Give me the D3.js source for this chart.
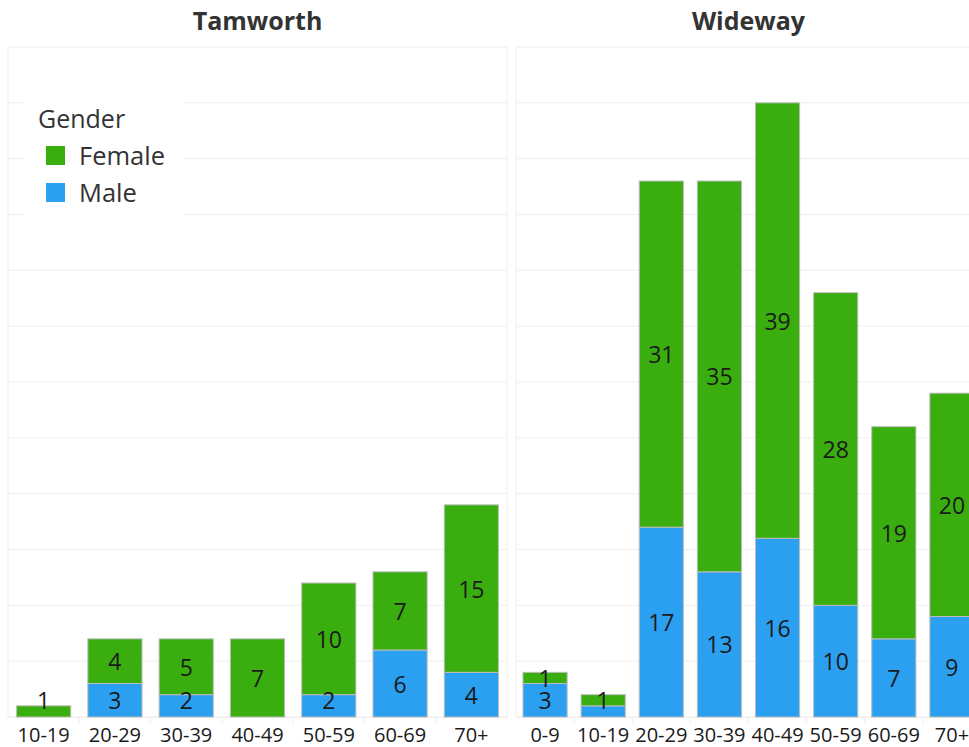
<!DOCTYPE html>
<html>
<head>
<meta charset="utf-8">
<script src="https://cdn.jsdelivr.net/npm/d3@7"></script>
<style>
  html, body { margin: 0; padding: 0; background: #fff; overflow: hidden; }
  svg { display: block; font-family: "Open Sans", "Noto Sans", sans-serif; }
</style>
</head>
<body>
<svg id="chart" width="969" height="747"></svg>
<script>
// ---- Data ----
const tamworthCategories = ["10-19", "20-29", "30-39", "40-49", "50-59", "60-69", "70+"];
const tamworthMale       = [0, 3, 2, 0, 2, 6, 4];
const tamworthFemale     = [1, 4, 5, 7, 10, 7, 15];

const widewayCategories = ["0-9", "10-19", "20-29", "30-39", "40-49", "50-59", "60-69", "70+"];
const widewayMale       = [3, 1, 17, 13, 16, 10, 7, 9];
const widewayFemale     = [1, 1, 31, 35, 39, 28, 19, 20];

const panelTitles = ["Tamworth", "Wideway"];
const seriesNames = ["Female", "Male"];
const gridTicks = d3.range(0, 61, 5);

// ---- Style ----
const colors = { Female: "#3AAE0E", Male: "#2BA0F0" };
const svg = d3.select("#chart");

const y = d3.scaleLinear().domain([0, 60]).range([717, 47]);

const panels = [
  { title: panelTitles[0], cats: tamworthCategories, male: tamworthMale, female: tamworthFemale, x0: 8, x1: 507 },
  { title: panelTitles[1], cats: widewayCategories, male: widewayMale, female: widewayFemale, x0: 516, x1: 981 }
];

panels.forEach(p => {
  const g = svg.append("g");
  const x = d3.scaleBand().domain(p.cats).range([p.x0, p.x1]).paddingInner(0.24).paddingOuter(0.12);

  // gridlines
  g.selectAll("line.grid").data(gridTicks).join("line")
    .attr("x1", p.x0).attr("x2", p.x1)
    .attr("y1", d => y(d)).attr("y2", d => y(d))
    .attr("stroke", "#eeeeee").attr("stroke-width", 1);
  // panel side borders
  [p.x0, p.x1].forEach(xx => {
    g.append("line").attr("x1", xx).attr("x2", xx).attr("y1", y(60)).attr("y2", y(0))
      .attr("stroke", "#eeeeee");
  });

  // title
  g.append("text")
    .attr("x", (p.x0 + p.x1) / 2).attr("y", 30)
    .attr("text-anchor", "middle")
    .attr("font-size", 25).attr("font-weight", 700).attr("fill", "#333")
    .text(p.title);

  // x axis
  const axis = d3.axisBottom(x).tickSize(0).tickPadding(0);
  const ax = g.append("g").attr("transform", `translate(0,${y(0)})`).call(axis);
  ax.select(".domain").attr("stroke", "#eeeeee");
  ax.selectAll("text").attr("font-size", 20).attr("fill", "#1a1a1a")
    .attr("font-family", "Open Sans, sans-serif").attr("dy", 0).attr("y", 25);
  // boundary ticks
  const bounds = p.cats.slice(1).map(c => x(c) - x.step() * x.paddingInner() / 2);
  g.selectAll("line.bt").data(bounds).join("line")
    .attr("x1", d => d).attr("x2", d => d)
    .attr("y1", y(0)).attr("y2", y(0) + 6)
    .attr("stroke", "#eeeeee");

  const rows = p.cats.map((c, i) => ({ cat: c, male: p.male[i], female: p.female[i] }));

  // bars
  rows.forEach(r => {
    if (r.male > 0) {
      g.append("rect")
        .attr("x", x(r.cat)).attr("width", x.bandwidth())
        .attr("y", y(r.male)).attr("height", y(0) - y(r.male))
        .attr("fill", colors.Male).attr("stroke", "#bdbdbd").attr("stroke-width", 1);
    }
    if (r.female > 0) {
      g.append("rect")
        .attr("x", x(r.cat)).attr("width", x.bandwidth())
        .attr("y", y(r.male + r.female)).attr("height", y(r.male) - y(r.male + r.female))
        .attr("fill", colors.Female).attr("stroke", "#bdbdbd").attr("stroke-width", 1);
    }
  });

  // labels
  const maxCenter = y(0) - 17;
  rows.forEach(r => {
    const cx = x(r.cat) + x.bandwidth() / 2;
    let fy = null;
    if (r.female > 0) {
      fy = Math.min((y(r.male) + y(r.male + r.female)) / 2, maxCenter);
      g.append("text").attr("x", cx).attr("y", fy)
        .attr("text-anchor", "middle").attr("dominant-baseline", "central")
        .attr("font-size", 23).attr("fill", "#1a1a1a").text(r.female);
    }
    if (r.male > 0) {
      const my = Math.min((y(0) + y(r.male)) / 2, maxCenter);
      if (fy === null || Math.abs(fy - my) >= 18) {
        g.append("text").attr("x", cx).attr("y", my)
          .attr("text-anchor", "middle").attr("dominant-baseline", "central")
          .attr("font-size", 23).attr("fill", "#1a1a1a").text(r.male);
      }
    }
  });
});

// ---- Legend ----
const lg = svg.append("g");
lg.append("rect").attr("x", 24).attr("y", 100).attr("width", 159).attr("height", 116)
  .attr("fill", "#fff").attr("opacity", 0.95);
lg.append("text").attr("x", 38).attr("y", 128).attr("font-size", 25).attr("fill", "#333").text("Gender");
seriesNames.forEach((s, i) => {
  const yy = 146 + i * 37;
  lg.append("rect").attr("x", 46).attr("y", yy).attr("width", 19).attr("height", 19)
    .attr("fill", colors[s]);
  lg.append("text").attr("x", 79).attr("y", yy + 19).attr("font-size", 25.5).attr("fill", "#333").text(s);
});
</script>
</body>
</html>
